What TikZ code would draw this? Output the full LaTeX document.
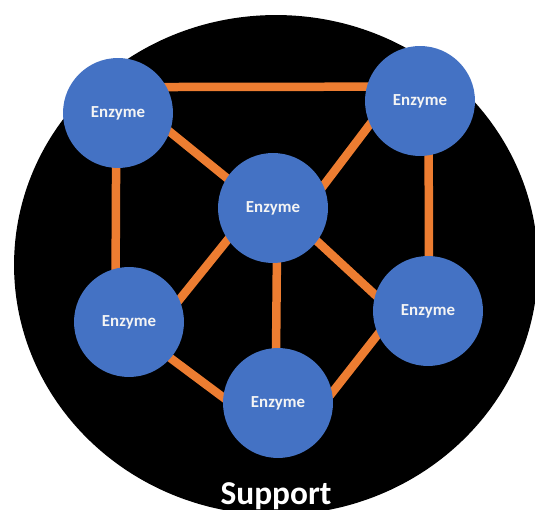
\documentclass[tikz,border=0pt]{standalone}
\usepackage{fontspec}
\setmainfont{Carlito}
\usetikzlibrary{backgrounds}
\definecolor{enzblue}{HTML}{4472C4}
\definecolor{linkorange}{HTML}{ED7D31}
\definecolor{txtwhite}{HTML}{F4F4F4}
\tikzset{
  enzyme/.style={circle, fill=enzblue, minimum size=2.2cm, inner sep=0pt,
    text=txtwhite, font=\fontsize{9.6}{11}\selectfont\bfseries},
  link/.style={draw=linkorange, line width=0.17cm, shorten <=-5pt, shorten >=-5pt},
  supportlabel/.style={text=white, font=\fontsize{19}{22}\selectfont\bfseries, anchor=base}
}
\begin{document}
\begin{tikzpicture}[x=0.02cm, y=-0.02cm]
\useasboundingbox (0,0) rectangle (535,510);
\node[enzyme] (tl) at (118,113) {Enzyme};
\node[enzyme] (tr) at (420,101) {Enzyme};
\node[enzyme] (c)  at (273,208) {Enzyme};
\node[enzyme] (ml) at (129,322) {Enzyme};
\node[enzyme] (r)  at (428,311) {Enzyme};
\node[enzyme] (b)  at (278,403) {Enzyme};
\node[supportlabel] (support) at (276,504) {Support};
\begin{scope}[on background layer]
  \clip (0,0) rectangle (535,510);
  \fill[black] (276,265) ellipse [x radius=5.24cm, y radius=5cm];
  \draw[link] (tl.28) -- (tr.165);
  \draw[link] (tl.-20) -- (c.147);
  \draw[link] (tl.-92) -- (ml.104);
  \draw[link] (tr.205) -- (c.24);
  \draw[link] (tr.-81) -- (r.89);
  \draw[link] (c.215) -- (ml.24);
  \draw[link] (c.-86) -- (b.92);
  \draw[link] (c.-37) -- (r.163);
  \draw[link] (ml.-41) -- (b.174);
  \draw[link] (r.205) -- (b.11);
\end{scope}
\end{tikzpicture}
\end{document}
